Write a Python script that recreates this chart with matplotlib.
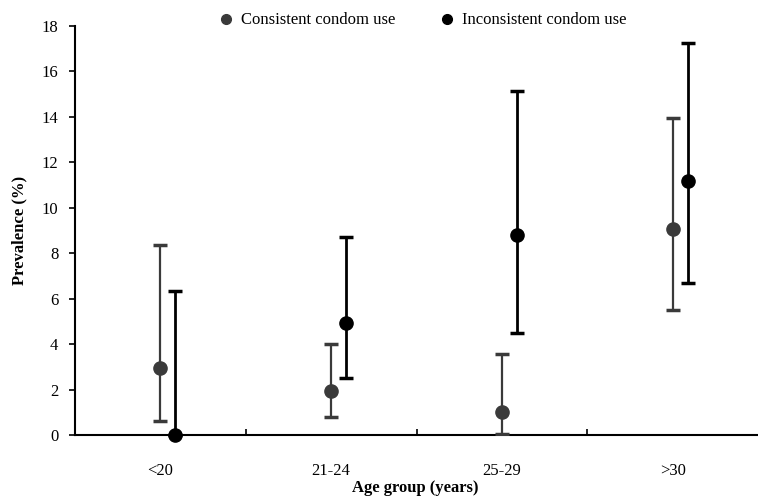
import numpy as np
import matplotlib
matplotlib.use("Agg")
import matplotlib.pyplot as plt
from matplotlib.lines import Line2D

age_groups = ["<20", "21-24", "25-29", ">30"]

consistent = [2.95, 1.95, 1.0, 9.05]
consistent_low = [0.6, 0.8, 0.05, 5.5]
consistent_high = [8.35, 4.0, 3.55, 13.95]

inconsistent = [0.0, 4.95, 8.8, 11.2]
inconsistent_low = [0.0, 2.5, 4.5, 6.7]
inconsistent_high = [6.35, 8.7, 15.15, 17.25]

plt.rcParams['font.family'] = ['Liberation Serif', 'DejaVu Serif']

fig = plt.figure(figsize=(7.58, 4.97), dpi=100)
ax = fig.add_axes([0.099, 0.1247, 0.901, 0.823])

x = np.arange(len(age_groups))
offset = 0.088

c = np.array(consistent)
ax.errorbar(x, c, yerr=[c - np.array(consistent_low), np.array(consistent_high) - c],
            fmt='o', color='#3a3a3a', ecolor='#3a3a3a', markersize=9.5, elinewidth=1.6,
            capsize=5, capthick=2.5, zorder=3)

i = np.array(inconsistent)
ax.errorbar(x + offset, i, yerr=[i - np.array(inconsistent_low), np.array(inconsistent_high) - i],
            fmt='o', color='black', ecolor='black', markersize=9.5, elinewidth=2.0,
            capsize=5, capthick=2.5, zorder=3, clip_on=False)

ax.set_xlim(-0.5, 3.5)
ax.set_ylim(0, 18)
ax.set_yticks(range(0, 19, 2))
ax.set_xticks(x)
ax.set_xticklabels(age_groups)
ax.tick_params(axis='x', length=0, pad=20, labelsize=12)
ax.set_xticks([0.5, 1.5, 2.5], minor=True)
ax.tick_params(axis='x', which='minor', direction='in', length=4, width=1.2)
ax.tick_params(axis='y', direction='out', length=4, width=1.2, labelsize=12, pad=8)

for s in ['top', 'right']:
    ax.spines[s].set_visible(False)
for s in ['left', 'bottom']:
    ax.spines[s].set_linewidth(1.5)

ax.set_ylabel('Prevalence (%)', fontweight='bold', fontsize=12, labelpad=10)
fig.text(0.548, 0.018, 'Age group (years)', fontweight='bold', fontsize=12,
         ha='center', va='center')

handles = [Line2D([], [], marker='o', linestyle='none', color='#3a3a3a', markersize=7),
           Line2D([], [], marker='o', linestyle='none', color='black', markersize=7)]
ax.legend(handles, ['Consistent condom use', 'Inconsistent condom use'],
          loc='upper center', bbox_to_anchor=(0.508, 1.07), ncol=2, frameon=False,
          fontsize=12, handletextpad=0.4, columnspacing=2.6, handlelength=1.0)

fig.savefig('out.png', dpi=100)
